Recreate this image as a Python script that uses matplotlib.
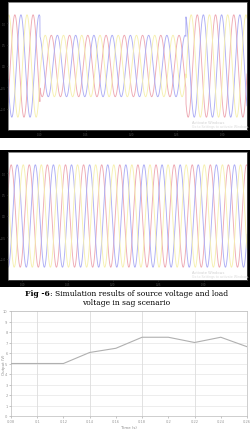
import numpy as np
import matplotlib
matplotlib.use("Agg")
import matplotlib.pyplot as plt

W, H = 253, 431

# ---------------- data ----------------
# Panel 1: source voltage (three-phase, sag scenario)
src_freq = 50.0
src_xlim = [0.065, 0.327]
src_xticks = [0.1, 0.15, 0.2, 0.25, 0.3]
src_yticks = [-1, -0.5, 0, 0.5, 1]
src_normal_amp = 1.2
src_sag_amp = 0.72
src_sag_start = 0.100
src_sag_end = 0.260
src_phase_peak = 0.0725          # time of a red-phase peak

# Panel 2: load voltage (compensated)
load_freq = 50.0
load_xlim = [0.084, 0.348]
load_xticks = [0.1, 0.15, 0.2, 0.25, 0.3]
load_yticks = [-1, -0.5, 0, 0.5, 1]
load_amp = 1.2
load_phase_peak = 0.0875

phase_colors = ['#eeaab4', '#aeaef4', '#f6f0b0']
phase_shifts = [0.0, 1/3, 2/3]   # fraction of cycle

# Bottom chart: output vs time
time_s = [0.08, 0.10, 0.12, 0.14, 0.16, 0.18, 0.20, 0.22, 0.24, 0.26]
output_v = [5.0, 5.0, 5.0, 6.05, 6.45, 7.5, 7.5, 7.0, 7.5, 6.6]
time_labels = ['0.08', '0.1', '0.12', '0.14', '0.16', '0.18', '0.2', '0.22', '0.24', '0.26']
y_ticks_out = [0, 1, 2, 3, 4, 5, 6, 7, 8, 9, 10]
grid_x = [0.10, 0.14, 0.18, 0.22, 0.26]

caption_bold = "Fig -6"
caption_rest = ": Simulation results of source voltage and load"
caption_line2 = "voltage in sag scenario"

# ---------------- figure ----------------
fig = plt.figure(figsize=(W / 100, H / 100), dpi=100)
fig.patch.set_facecolor('white')


def px_axes(L, T, R, B, **kw):
    return fig.add_axes([L / W, 1 - B / H, (R - L) / W, (B - T) / H], **kw)


def black_frame(L, T, R, B):
    bg = px_axes(L, T, R, B, zorder=-5)
    bg.set_facecolor('black')
    bg.set_xticks([])
    bg.set_yticks([])
    for s in bg.spines.values():
        s.set_visible(False)


def wave_panel(ax, t, amp, freq, peak, xlim, xticks, yticks):
    ax.set_facecolor('white')
    for c, sh in zip(phase_colors, phase_shifts):
        y = amp * np.cos(2 * np.pi * freq * (t - peak) - 2 * np.pi * sh)
        ax.plot(t, y, color=c, lw=0.65)
    ax.set_xlim(xlim)
    ax.set_ylim(-1.5, 1.5)
    ax.set_xticks(xticks)
    ax.set_yticks(yticks)
    ax.tick_params(labelsize=1.8, colors='#555555', length=1.0, width=0.4, pad=0.4)
    for s in ax.spines.values():
        s.set_color('#555555')
        s.set_linewidth(0.5)
    ax.text(0.77, 0.055, "Activate Windows", transform=ax.transAxes,
            fontsize=2.6, color='#d0d0d0')
    ax.text(0.77, 0.02, "Go to Settings to activate Windows.", transform=ax.transAxes,
            fontsize=2.3, color='#dcdcdc')


# Panel 1
black_frame(0, 0, 250, 139)
ax1 = px_axes(8, 3, 247, 131, zorder=1)
t1 = np.linspace(src_xlim[0], src_xlim[1], 3000)
amp1 = np.where((t1 >= src_sag_start) & (t1 < src_sag_end), src_sag_amp, src_normal_amp)
wave_panel(ax1, t1, amp1, src_freq, src_phase_peak, src_xlim, src_xticks, src_yticks)

# Panel 2
black_frame(0, 151, 250, 288)
ax2 = px_axes(8, 153, 247, 281, zorder=1)
t2 = np.linspace(load_xlim[0], load_xlim[1], 3000)
wave_panel(ax2, t2, load_amp, load_freq, load_phase_peak, load_xlim, load_xticks, load_yticks)

# Caption (sized so line 1 spans ~202 px like the reference)
cap_family = 'DejaVu Serif'
cap_fs = 6.0
t_b = fig.text(0, 1 - 294.5 / H, caption_bold, fontsize=cap_fs, fontweight='bold',
               family=cap_family, va='center', ha='left')
t_r = fig.text(0, 1 - 294.5 / H, caption_rest, fontsize=cap_fs,
               family=cap_family, va='center', ha='left')
fig.canvas.draw()
total = t_b.get_window_extent().width + t_r.get_window_extent().width
cap_fs = cap_fs * 204.0 / total
t_b.set_fontsize(cap_fs)
t_r.set_fontsize(cap_fs)
fig.canvas.draw()
wb = t_b.get_window_extent().width
wr = t_r.get_window_extent().width
x0 = (W - (wb + wr)) / 2
t_b.set_x(x0 / W)
t_r.set_x((x0 + wb) / W)
fig.text(0.5, 1 - 303.5 / H, caption_line2, fontsize=cap_fs,
         family=cap_family, va='center', ha='center')

# Bottom chart
ax3 = px_axes(11, 312, 247, 417)
ax3.plot(time_s, output_v, color='#b0b0b0', lw=0.8, zorder=3)
ax3.set_xlim(time_s[0], time_s[-1])
ax3.set_ylim(y_ticks_out[0], y_ticks_out[-1])
ax3.set_xticks(time_s)
ax3.set_xticklabels(time_labels)
ax3.set_yticks(y_ticks_out)
for gy in y_ticks_out:
    ax3.axhline(gy, color='#e6e6e6', lw=0.5, zorder=1)
for gx in grid_x:
    ax3.axvline(gx, color='#dddddd', lw=0.6, zorder=1)
ax3.tick_params(labelsize=2.6, colors='#999999', length=1.5, width=0.4, pad=1)
for s in ax3.spines.values():
    s.set_color('#bbbbbb')
    s.set_linewidth(0.5)
ax3.set_xlabel("Time (s)", fontsize=2.8, color='#888888', labelpad=1)
ax3.set_ylabel("Output (V)", fontsize=2.8, color='#888888')
ax3.yaxis.set_label_coords(-0.022, 0.5)

fig.savefig('out.png', dpi=100, facecolor='white')
